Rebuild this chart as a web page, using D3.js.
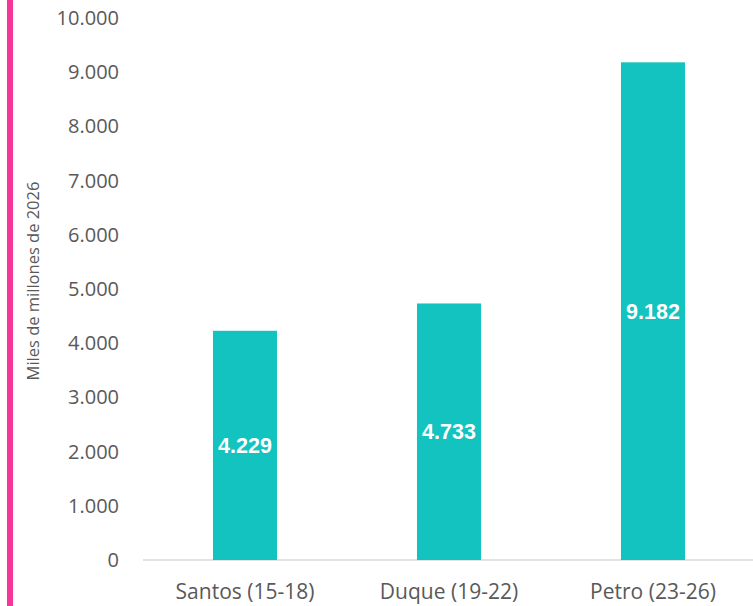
<!DOCTYPE html>
<html>
<head>
<meta charset="utf-8">
<script src="https://cdn.jsdelivr.net/npm/d3@7"></script>
<style>
  body { margin: 0; background: #fff; }
  svg { display: block; }
</style>
</head>
<body>
<svg id="chart" width="753" height="606"></svg>
<script>
// datos
const categorias = ["Santos (15-18)", "Duque (19-22)", "Petro (23-26)"];
const valores = [4229, 4733, 9182];
const ticksY = [0, 1000, 2000, 3000, 4000, 5000, 6000, 7000, 8000, 9000, 10000];

const svg = d3.select("#chart");
const fmt = v => d3.format(",")(v).replace(/,/g, ".");
const fuente = "'Open Sans', 'Noto Sans', sans-serif";

// borde rosado a la izquierda
svg.append("rect")
  .attr("x", 7).attr("y", 0)
  .attr("width", 6).attr("height", 606)
  .attr("fill", "#F7339C");

const x = d3.scaleBand()
  .domain(categorias)
  .range([143, 755])
  .paddingInner(0.686)
  .paddingOuter(0.343);

const y = d3.scaleLinear()
  .domain([0, 10000])
  .range([560, 18]);

// eje Y (sin línea)
const ejeY = svg.append("g")
  .attr("transform", "translate(119,0)")
  .call(d3.axisLeft(y).tickValues(ticksY).tickFormat(fmt).tickSize(0).tickPadding(0));
ejeY.select(".domain").remove();
ejeY.selectAll("text")
  .attr("fill", "#595959")
  .style("font-family", fuente)
  .style("font-size", "20px");

// línea base
svg.append("line")
  .attr("x1", 143).attr("x2", 753)
  .attr("y1", y(0)).attr("y2", y(0))
  .attr("stroke", "#D9D9D9")
  .attr("stroke-width", 1.5);

// barras
svg.selectAll(".bar")
  .data(valores)
  .enter().append("rect")
  .attr("class", "bar")
  .attr("x", (d, i) => x(categorias[i]))
  .attr("y", d => y(d))
  .attr("width", x.bandwidth())
  .attr("height", d => y(0) - y(d))
  .attr("fill", "#12C3BF");

// etiquetas de valor
svg.selectAll(".lbl")
  .data(valores)
  .enter().append("text")
  .attr("class", "lbl")
  .attr("x", (d, i) => x(categorias[i]) + x.bandwidth() / 2)
  .attr("y", d => (y(d) + y(0)) / 2)
  .attr("dy", "0.35em")
  .attr("text-anchor", "middle")
  .attr("fill", "#fff")
  .style("font-family", "'Liberation Sans', Arial, sans-serif")
  .style("font-weight", "bold")
  .style("font-size", "21.5px")
  .text(d => fmt(d));

// eje X
svg.selectAll(".cat")
  .data(categorias)
  .enter().append("text")
  .attr("class", "cat")
  .attr("x", d => x(d) + x.bandwidth() / 2)
  .attr("y", 599)
  .attr("text-anchor", "middle")
  .attr("fill", "#595959")
  .style("font-family", fuente)
  .style("font-size", "21px")
  .text(d => d);

// título eje Y
svg.append("text")
  .attr("transform", "translate(39,281) rotate(-90)")
  .attr("text-anchor", "middle")
  .attr("fill", "#595959")
  .style("font-family", fuente)
  .style("font-size", "16.5px")
  .text("Miles de millones de 2026");
</script>
</body>
</html>
